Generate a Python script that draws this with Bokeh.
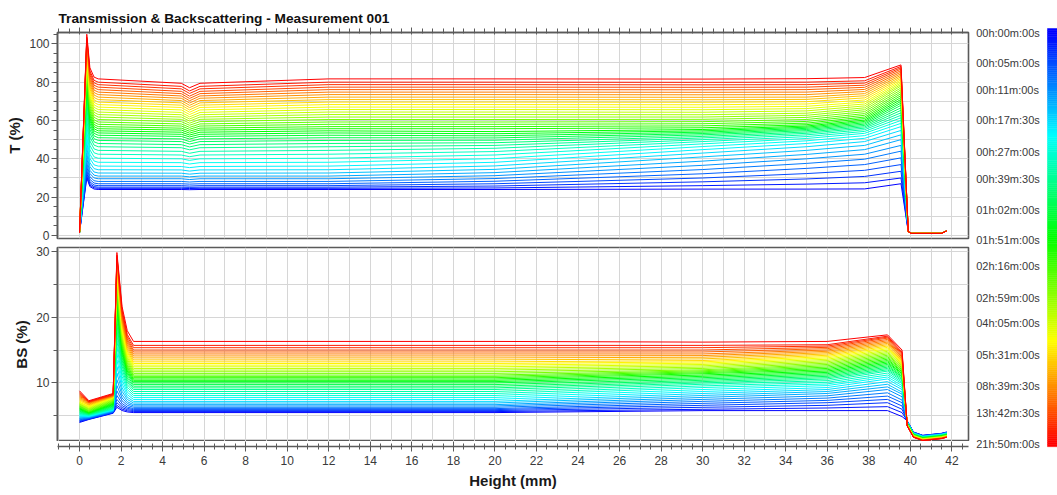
import colorsys
from bokeh.plotting import figure
from bokeh.layouts import column, row
from bokeh.models import Range1d, SingleIntervalTicker, ColumnDataSource
from bokeh.core.properties import value
from bokeh.embed import file_html
from bokeh.resources import INLINE

TITLE = "Transmission & Backscattering - Measurement 001"

# colour-bar scan times and their positions (scan index)
time_labels = ["00h:00m:00s", "00h:05m:00s", "00h:11m:00s", "00h:17m:30s", "00h:27m:00s",
               "00h:39m:30s", "01h:02m:00s", "01h:51m:00s", "02h:16m:00s", "02h:59m:00s",
               "04h:05m:00s", "05h:31m:00s", "08h:39m:30s", "13h:42m:30s", "21h:50m:00s"]
label_pos = [0, 3.11, 5.82, 8.96, 12.23, 14.92, 18.09, 21.15, 23.85, 27.08,
             29.67, 32.97, 36.14, 38.83, 42]

# ---------------- Transmission (T %) : one value per scan at key heights ----------------
T_spike = [30, 31, 32.5, 34, 36, 38, 40.5, 43, 46, 49,
           52, 55, 58, 61, 64, 67, 70, 72.5, 75, 77,
           79, 81, 83, 84.5, 86, 87.5, 89, 90.5, 92, 93,
           94, 95, 96, 97, 98, 99, 100, 101, 102, 102.5,
           103, 103.5, 105]
T_left = [24.0, 24.6, 25.2, 26.0, 27.0, 28.2, 29.6, 31.0, 32.6, 34.3,
          36.2, 38.2, 40.3, 42.4, 44.4, 46.3, 48.0, 49.6, 51.0, 52.3,
          53.5, 54.6, 55.7, 56.8, 58.0, 59.2, 60.5, 61.8, 63.1, 64.4,
          65.7, 67.0, 68.3, 69.6, 70.9, 72.2, 73.5, 74.8, 76.1, 77.4,
          78.7, 80.0, 81.7]
T_sag = [24.0, 24.6, 25.2, 26.0, 27.0, 28.2, 29.6, 31.0, 32.5, 34.2,
         36.0, 38.0, 40.0, 42.0, 43.9, 45.8, 47.4, 49.0, 50.4, 51.7,
         52.8, 53.9, 55.0, 56.0, 57.1, 58.2, 59.4, 60.6, 61.8, 63.0,
         64.2, 65.5, 66.8, 68.0, 69.2, 70.4, 71.6, 72.8, 74.0, 75.2,
         76.5, 77.8, 79.4]
T_notch = [23.9, 24.5, 25.1, 25.8, 26.8, 27.9, 29.2, 30.6, 32.0, 33.6,
           35.4, 37.3, 39.2, 41.1, 42.9, 44.7, 46.2, 47.7, 49.0, 50.3,
           51.4, 52.4, 53.4, 54.4, 55.4, 56.4, 57.5, 58.6, 59.7, 60.8,
           61.9, 63.1, 64.3, 65.5, 66.7, 67.9, 69.1, 70.3, 71.5, 72.7,
           74.1, 75.4, 77.1]
T_mid = [24.0, 24.8, 25.8, 27.0, 28.3, 29.7, 31.2, 32.8, 34.5, 36.3,
         38.2, 40.1, 42.0, 43.8, 45.5, 47.0, 48.4, 49.7, 50.9, 52.0,
         53.1, 54.2, 55.7, 56.8, 58.0, 59.2, 60.5, 61.8, 63.1, 64.4,
         65.7, 67.0, 68.3, 69.6, 70.9, 72.2, 73.5, 74.8, 76.1, 77.4,
         78.7, 80.0, 81.7]
T_a = [24.2, 26.0, 28.0, 30.0, 32.2, 34.4, 36.6, 38.8, 41.0, 43.0,
       44.8, 46.4, 47.8, 49.0, 50.0, 50.9, 51.7, 52.5, 53.2, 53.9,
       54.6, 55.3, 56.2, 57.2, 58.3, 59.4, 60.6, 61.8, 63.0, 64.3,
       65.6, 66.9, 68.2, 69.5, 70.8, 72.1, 73.4, 74.7, 76.0, 77.3,
       78.6, 79.9, 81.6]
T_b = [24.2, 26.8, 29.5, 32.3, 35.0, 37.6, 40.0, 42.3, 44.4, 46.3,
       48.0, 49.4, 50.6, 51.6, 52.5, 53.3, 54.0, 54.7, 55.3, 55.9,
       56.5, 57.1, 57.8, 58.6, 59.5, 60.5, 61.6, 62.7, 63.8, 65.0,
       66.2, 67.4, 68.6, 69.8, 71.0, 72.2, 73.5, 74.8, 76.1, 77.4,
       78.7, 80.0, 81.8]
T_c = [24.3, 27.5, 30.8, 34.0, 37.0, 39.8, 42.4, 44.8, 47.0, 49.0,
       50.7, 52.1, 53.3, 54.3, 55.2, 56.0, 56.7, 57.4, 58.1, 58.8,
       59.5, 60.2, 61.0, 61.8, 62.7, 63.6, 64.6, 65.6, 66.6, 67.6,
       68.6, 69.6, 70.7, 71.8, 72.9, 74.0, 75.1, 76.2, 77.3, 78.4,
       79.5, 80.7, 82.4]
T_peak = [27.0, 30.0, 33.5, 37.0, 40.5, 44.0, 47.0, 50.0, 52.5, 54.8,
          56.8, 58.5, 60.0, 61.4, 62.7, 64.0, 65.3, 66.6, 67.9, 69.0,
          70.0, 71.0, 72.0, 73.0, 74.0, 75.0, 76.0, 77.0, 78.0, 78.8,
          79.6, 80.4, 81.2, 82.0, 82.8, 83.6, 84.4, 85.2, 86.0, 86.8,
          87.5, 88.2, 89.0]
T_start = 1.5
T_decay_frac = [0.25, 0.04]          # spike decay (fraction of spike height) at 0.50 / 0.70 mm
T_end = [2.0, 1.1, 1.1, 2.4]         # values after the top of the sample

T_heights = [0.0, 0.35, 0.50, 0.70, 0.90, 4.9, 5.3, 5.8, 12.0, 20.0,
             30.0, 35.0, 37.8, 39.55, 39.9, 40.05, 41.5, 41.75]

# ---------------- Backscattering (BS %) ----------------
BS_start = [4.0, 4.1, 4.2, 4.3, 4.4, 4.5, 4.6, 4.7, 4.8, 4.9,
            5.0, 5.1, 5.2, 5.3, 5.4, 5.5, 5.6, 5.7, 5.8, 5.9,
            6.0, 6.1, 6.2, 6.3, 6.4, 6.5, 6.6, 6.7, 6.8, 6.9,
            7.0, 7.1, 7.25, 7.4, 7.55, 7.7, 7.85, 8.0, 8.15, 8.3,
            8.45, 8.6, 8.8]
BS_dip = [4.45, 4.5, 4.55, 4.6, 4.65, 4.7, 4.75, 4.8, 4.85, 4.9,
          4.95, 5.0, 5.05, 5.1, 5.15, 5.2, 5.25, 5.3, 5.35, 5.4,
          5.45, 5.5, 5.55, 5.6, 5.7, 5.8, 5.9, 6.0, 6.1, 6.2,
          6.3, 6.4, 6.5, 6.6, 6.7, 6.8, 6.9, 7.0, 7.05, 7.1,
          7.15, 7.2, 7.3]
BS_pre = [5.4, 5.45, 5.5, 5.55, 5.6, 5.65, 5.7, 5.75, 5.8, 5.85,
          5.9, 5.95, 6.0, 6.05, 6.1, 6.2, 6.3, 6.4, 6.5, 6.6,
          6.7, 6.8, 6.9, 7.0, 7.1, 7.2, 7.3, 7.4, 7.5, 7.6,
          7.7, 7.75, 7.8, 7.85, 7.9, 7.95, 8.0, 8.05, 8.1, 8.15,
          8.2, 8.3, 8.4]
BS_spike = [6.3, 6.6, 7.0, 7.5, 8.1, 8.8, 9.6, 10.5, 11.5, 12.5,
            13.5, 14.5, 15.5, 16.4, 17.3, 18.1, 18.9, 19.6, 20.3, 21.0,
            21.6, 22.2, 22.8, 23.3, 23.8, 24.3, 24.8, 25.2, 25.6, 26.0,
            26.4, 26.7, 27.0, 27.3, 27.6, 27.9, 28.2, 28.5, 28.8, 29.0,
            29.2, 29.4, 29.8]
BS_left = [5.5, 5.65, 5.8, 5.95, 6.1, 6.3, 6.5, 6.7, 6.95, 7.2,
           7.5, 7.8, 8.1, 8.4, 8.7, 9.0, 9.25, 9.5, 9.75, 10.0,
           10.2, 10.4, 10.6, 10.8, 11.0, 11.2, 11.45, 11.7, 11.95, 12.2,
           12.45, 12.7, 12.95, 13.2, 13.5, 13.8, 14.1, 14.4, 14.7, 15.0,
           15.35, 15.7, 16.3]
BS_a = [5.8, 6.0, 6.3, 6.6, 6.9, 7.2, 7.5, 7.8, 8.1, 8.4,
        8.7, 9.0, 9.3, 9.55, 9.8, 10.0, 10.2, 10.4, 10.6, 10.8,
        11.0, 11.2, 11.4, 11.55, 11.7, 11.85, 12.0, 12.2, 12.4, 12.6,
        12.8, 13.0, 13.2, 13.4, 13.65, 13.9, 14.15, 14.4, 14.7, 15.0,
        15.35, 15.7, 16.2]
BS_b = [5.8, 6.2, 6.6, 7.0, 7.35, 7.7, 8.05, 8.4, 8.7, 9.0,
        9.3, 9.6, 9.85, 10.1, 10.35, 10.6, 10.8, 11.0, 11.2, 11.4,
        11.6, 11.8, 12.0, 12.2, 12.4, 12.6, 12.8, 13.0, 13.2, 13.4,
        13.6, 13.8, 14.0, 14.2, 14.4, 14.6, 14.8, 15.0, 15.2, 15.4,
        15.6, 15.8, 16.3]
BS_c = [5.8, 6.4, 7.0, 7.5, 8.0, 8.5, 9.0, 9.4, 9.8, 10.2,
        10.6, 10.9, 11.2, 11.5, 11.8, 12.0, 12.2, 12.4, 12.6, 12.8,
        13.0, 13.2, 13.4, 13.6, 13.8, 14.0, 14.2, 14.4, 14.6, 14.8,
        15.0, 15.2, 15.4, 15.6, 15.8, 16.0, 16.2, 16.4, 16.6, 16.8,
        16.95, 17.1, 17.3]
BS_e = [4.9, 5.5, 6.0, 6.5, 7.0, 7.4, 7.9, 8.3, 8.6, 9.0,
        9.3, 9.6, 9.9, 10.1, 10.3, 10.5, 10.7, 10.9, 11.0, 11.2,
        11.4, 11.5, 11.7, 11.8, 12.0, 12.1, 12.3, 12.4, 12.6, 12.7,
        12.9, 13.0, 13.2, 13.3, 13.5, 13.6, 13.8, 13.9, 14.1, 14.3,
        14.5, 14.7, 15.0]
BS_tail = [2.05, 2.03, 2.01, 1.99, 1.97, 1.95, 1.93, 1.91, 1.89, 1.87,
           1.85, 1.83, 1.81, 1.79, 1.77, 1.75, 1.73, 1.71, 1.69, 1.67,
           1.65, 1.63, 1.61, 1.59, 1.57, 1.55, 1.53, 1.51, 1.49, 1.47,
           1.45, 1.43, 1.41, 1.39, 1.37, 1.35, 1.33, 1.31, 1.29, 1.28,
           1.27, 1.26, 1.25]
BS_decay_frac = [0.39, 0.12]          # spike decay at 2.05 / 2.30 mm
BS_end_offset = [2.2, 0.5, 0.0, 0.3, 0.5]

BS_heights = [0.0, 0.45, 1.62, 1.80, 2.05, 2.30, 2.60, 20.0, 30.0, 36.0,
              38.9, 39.6, 39.85, 40.15, 40.6, 41.5, 41.75]

N = len(T_left)


def hue_color(frac):
    r, g, b = colorsys.hsv_to_rgb((240.0 * (1.0 - frac)) / 360.0, 1.0, 1.0)
    return "#%02x%02x%02x" % (int(round(r * 255)), int(round(g * 255)), int(round(b * 255)))


colors = [hue_color(i / (N - 1)) for i in range(N)]

t_xs, t_ys, b_xs, b_ys = [], [], [], []
for i in range(N):
    S, L = T_spike[i], T_left[i]
    ys = [T_start, S, L + (S - L) * T_decay_frac[0], L + (S - L) * T_decay_frac[1], L,
          T_sag[i], T_notch[i], T_sag[i], L, T_mid[i], T_a[i], T_b[i], T_c[i], T_peak[i]] + T_end
    t_xs.append(T_heights)
    t_ys.append(ys)

    S, L = BS_spike[i], BS_left[i]
    tl = BS_tail[i]
    ys = [BS_start[i], BS_dip[i], BS_pre[i], S, L + (S - L) * BS_decay_frac[0],
          L + (S - L) * BS_decay_frac[1], L, L, BS_a[i], BS_b[i], BS_c[i], BS_e[i]] + \
         [tl + o for o in BS_end_offset]
    b_xs.append(BS_heights)
    b_ys.append(ys)

FONT = "Liberation Sans"
FRAME = "#5a5a5a"
GRID = "#d6d6d6"
TICK_TXT = "#3a3a3a"
LABEL_SIZE = "15px"
TICK_SIZE = "12px"

xr = Range1d(-1.06, 42.80)


def style_common(p):
    p.outline_line_color = FRAME
    p.outline_line_width = 1.6
    p.background_fill_color = "white"
    p.border_fill_color = "white"
    p.xgrid.ticker = SingleIntervalTicker(interval=1)
    p.xgrid.grid_line_color = GRID
    p.ygrid.grid_line_color = GRID
    for ax in p.yaxis:
        ax.axis_line_color = FRAME
        ax.axis_line_width = 1.6
        ax.major_tick_line_color = FRAME
        ax.minor_tick_line_color = FRAME
        ax.major_tick_in = 0
        ax.major_tick_out = 6
        ax.minor_tick_in = 0
        ax.minor_tick_out = 4
        ax.major_label_standoff = 2
        ax.major_label_text_font = FONT
        ax.major_label_text_font_size = TICK_SIZE
        ax.major_label_text_color = TICK_TXT
        ax.axis_label_text_font = FONT
        ax.axis_label_text_font_size = LABEL_SIZE
        ax.axis_label_text_font_style = "bold"
        ax.axis_label_text_color = "#1a1a1a"
        ax.axis_label_standoff = 3


# ---------- top panel: T ----------
p1 = figure(width=975, height=243, x_range=xr, y_range=Range1d(-1.57, 105.9),
            x_axis_location="above", output_backend="svg", toolbar_location=None,
            min_border_left=57, min_border_right=7, min_border_top=32, min_border_bottom=5,
            title=TITLE)
p1.title.align = "left"
p1.title.vertical_align = "middle"
p1.title.text_font = FONT
p1.title.text_font_size = "13.7px"
p1.title.text_font_style = "bold"
p1.title.text_color = "#111111"
p1.title.standoff = 2
p1.title.offset = 1
style_common(p1)
p1.yaxis.ticker = SingleIntervalTicker(interval=20, num_minor_ticks=4)
p1.ygrid.ticker = SingleIntervalTicker(interval=10)
p1.yaxis.axis_label = "T (%)"
ax = p1.xaxis[0]
ax.ticker = SingleIntervalTicker(interval=2, num_minor_ticks=4)
ax.major_label_text_font_size = "1px"
ax.major_label_text_color = None
ax.major_label_standoff = 0
ax.axis_line_color = FRAME
ax.axis_line_width = 1.6
ax.major_tick_line_color = FRAME
ax.minor_tick_line_color = FRAME
ax.major_tick_in = 2
ax.major_tick_out = 5
ax.minor_tick_in = 1
ax.minor_tick_out = 4
p1.multi_line(xs="xs", ys="ys", line_color="color", line_width=1,
              source=ColumnDataSource(dict(xs=t_xs, ys=t_ys, color=colors)))

# ---------- bottom panel: BS ----------
p2 = figure(width=975, height=198, x_range=xr, y_range=Range1d(1.11, 30.56),
            x_axis_location=None, output_backend="svg", toolbar_location=None,
            min_border_left=57, min_border_right=7, min_border_top=4, min_border_bottom=0)
style_common(p2)
p2.yaxis.ticker = SingleIntervalTicker(interval=10, num_minor_ticks=2)
p2.ygrid.ticker = SingleIntervalTicker(interval=5)
p2.yaxis.axis_label = "BS (%)"
p2.multi_line(xs="xs", ys="ys", line_color="color", line_width=1,
              source=ColumnDataSource(dict(xs=b_xs, ys=b_ys, color=colors)))

# ---------- shared height axis ----------
p3 = figure(width=975, height=54, x_range=xr, y_range=Range1d(0, 1),
            y_axis_location=None, output_backend="svg", toolbar_location=None,
            min_border_left=57, min_border_right=7, min_border_top=0, min_border_bottom=49)
p3.outline_line_color = None
p3.grid.visible = False
ax = p3.xaxis[0]
ax.ticker = SingleIntervalTicker(interval=2, num_minor_ticks=4)
ax.axis_line_color = FRAME
ax.axis_line_width = 1.6
ax.major_tick_line_color = FRAME
ax.minor_tick_line_color = FRAME
ax.major_tick_in = 5
ax.major_tick_out = 5
ax.minor_tick_in = 3
ax.minor_tick_out = 3
ax.major_label_standoff = 4
ax.major_label_text_font = FONT
ax.major_label_text_font_size = TICK_SIZE
ax.major_label_text_color = TICK_TXT
ax.axis_label = "Height (mm)"
ax.axis_label_text_font = FONT
ax.axis_label_text_font_size = LABEL_SIZE
ax.axis_label_text_font_style = "bold"
ax.axis_label_text_color = "#1a1a1a"
ax.axis_label_standoff = 4

# ---------- colour bar with scan times ----------
pc = figure(width=82, height=495, x_range=Range1d(0, 82), y_range=Range1d(47.28, -3.30),
            x_axis_location=None, y_axis_location=None, output_backend="svg",
            toolbar_location=None, min_border=0, min_border_left=0, min_border_right=0,
            min_border_top=0, min_border_bottom=0)
pc.outline_line_color = None
pc.grid.visible = False
nseg = 200
bar_top, bar_bot = -0.44, 42.29
edges = [bar_top + (bar_bot - bar_top) * k / nseg for k in range(nseg + 1)]
seg_col = [hue_color(min(max(((edges[k] + edges[k + 1]) / 2) / (N - 1), 0), 1)) for k in range(nseg)]
pc.quad(left=72, right=82, top=edges[:-1], bottom=edges[1:], fill_color=seg_col,
        line_color=seg_col, line_width=0.5)
pc.text(x=0.7, y=label_pos, text=time_labels, text_font=value(FONT),
        text_font_size=value("11px"), text_color=TICK_TXT,
        text_align="left", text_baseline="middle")

layout = row(column(p1, p2, p3), pc)
open("out.html", "w").write(file_html(layout, INLINE))
